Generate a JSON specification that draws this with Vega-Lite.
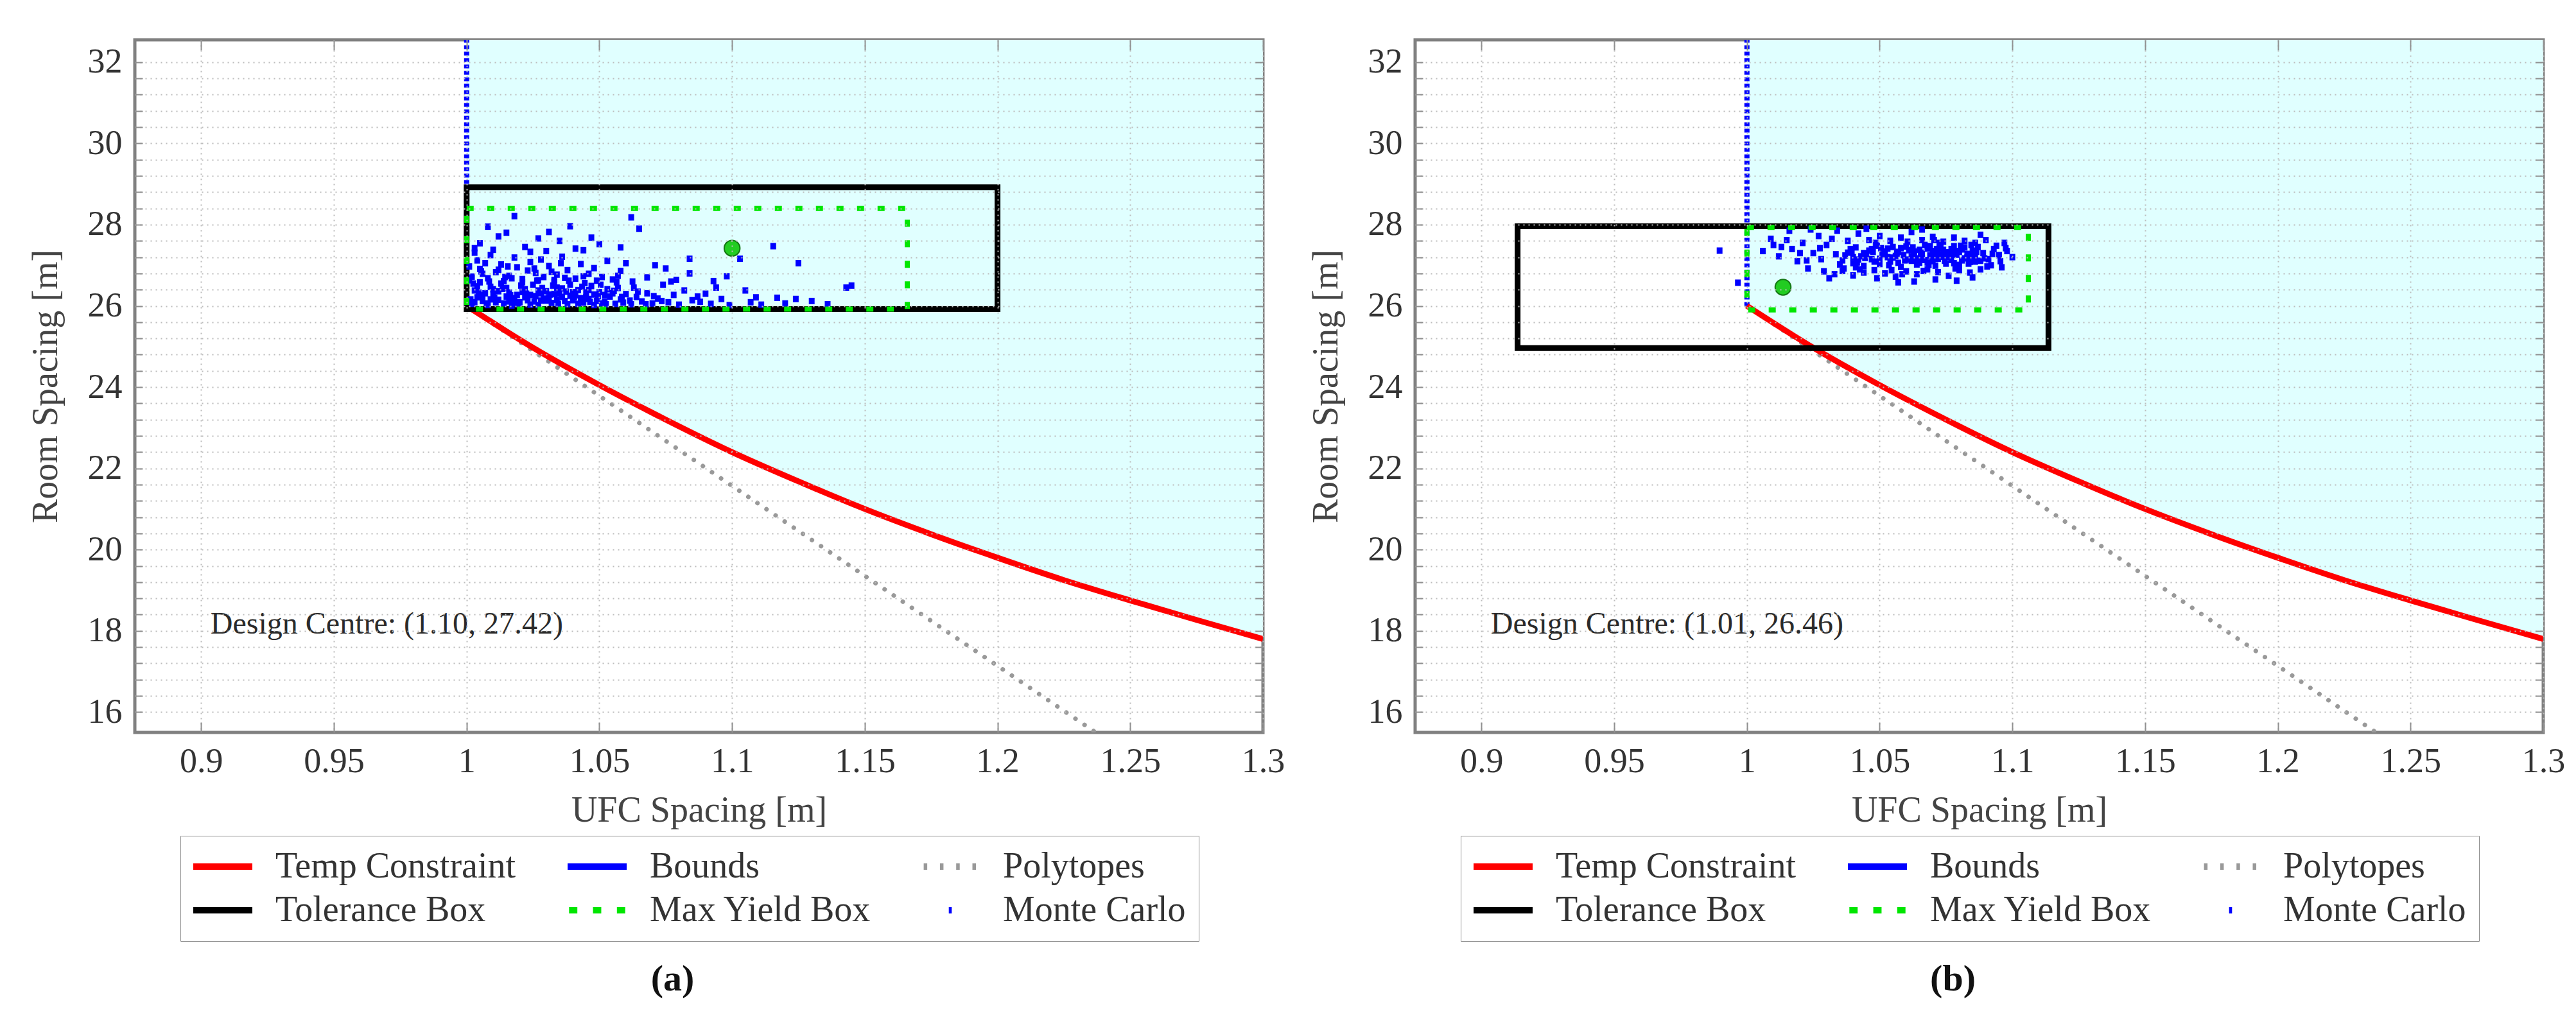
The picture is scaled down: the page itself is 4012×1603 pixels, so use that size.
{
"$schema":"https://vega.github.io/schema/vega-lite/v6.json",
"background":"white",
"padding":{"left":40,"top":58,"right":10,"bottom":10},
"spacing":30,
"config":{"font":"Liberation Serif","view":{"stroke":"#808080","strokeWidth":5},"axis":{"labelFont":"Liberation Serif","titleFont":"Liberation Serif"},"legend":{"labelFont":"Liberation Serif"}},
"resolve":{"scale":{"color":"independent","shape":"independent"},"legend":{"color":"independent","shape":"independent"}},
"datasets":{
"curve":[{"x":1.0,"y":26.0},{"x":1.025,"y":24.97},{"x":1.05,"y":24.05},{"x":1.075,"y":23.2},{"x":1.1,"y":22.4},{"x":1.125,"y":21.68},{"x":1.15,"y":21.0},{"x":1.175,"y":20.38},{"x":1.2,"y":19.8},{"x":1.225,"y":19.25},{"x":1.25,"y":18.75},{"x":1.275,"y":18.27},{"x":1.3,"y":17.8}],
"poly":[{"x":1.0,"y":26.0},{"x":1.237,"y":15.5}],
"bounds":[{"x":1.0,"y":26.0},{"x":1.0,"y":32.55}],
"tolA":[{"x1":1.0,"x2":1.2,"y1":25.92,"y2":28.92}],
"myA":[{"x1":1.0,"x2":1.166,"y1":25.92,"y2":28.4}],
"tolB":[{"x1":0.9136,"x2":1.1136,"y1":24.96,"y2":27.96}],
"myB":[{"x1":1.0,"x2":1.106,"y1":25.9,"y2":27.93}],
"dcA":[{"x":1.10,"y":27.42}],
"dcB":[{"x":1.0136,"y":26.46}],
"txtA":[{"x":0.9035,"y":18.15,"t":"Design Centre: (1.10, 27.42)"}],
"txtB":[{"x":0.9035,"y":18.15,"t":"Design Centre: (1.01, 26.46)"}],
"mcA":[
{"x":1.002,"y":26.05,"s":"Monte Carlo"},{"x":1.004,"y":26.21,"s":"Monte Carlo"},{"x":1.006,"y":26.12,"s":"Monte Carlo"},{"x":1.003,"y":26.38,"s":"Monte Carlo"},{"x":1.008,"y":26.02,"s":"Monte Carlo"},{"x":1.010,"y":26.29,"s":"Monte Carlo"},{"x":1.012,"y":26.15,"s":"Monte Carlo"},{"x":1.009,"y":26.47,"s":"Monte Carlo"},{"x":1.014,"y":26.06,"s":"Monte Carlo"},{"x":1.016,"y":26.33,"s":"Monte Carlo"},{"x":1.018,"y":26.19,"s":"Monte Carlo"},{"x":1.013,"y":26.55,"s":"Monte Carlo"},{"x":1.020,"y":26.09,"s":"Monte Carlo"},{"x":1.022,"y":26.41,"s":"Monte Carlo"},{"x":1.019,"y":26.27,"s":"Monte Carlo"},{"x":1.024,"y":26.03,"s":"Monte Carlo"},{"x":1.026,"y":26.24,"s":"Monte Carlo"},{"x":1.028,"y":26.13,"s":"Monte Carlo"},{"x":1.025,"y":26.52,"s":"Monte Carlo"},{"x":1.030,"y":26.36,"s":"Monte Carlo"},{"x":1.032,"y":26.07,"s":"Monte Carlo"},{"x":1.029,"y":26.18,"s":"Monte Carlo"},{"x":1.034,"y":26.45,"s":"Monte Carlo"},{"x":1.036,"y":26.22,"s":"Monte Carlo"},{"x":1.038,"y":26.04,"s":"Monte Carlo"},{"x":1.035,"y":26.31,"s":"Monte Carlo"},{"x":1.040,"y":26.14,"s":"Monte Carlo"},{"x":1.042,"y":26.39,"s":"Monte Carlo"},{"x":1.044,"y":26.08,"s":"Monte Carlo"},{"x":1.041,"y":26.26,"s":"Monte Carlo"},{"x":1.046,"y":26.17,"s":"Monte Carlo"},{"x":1.048,"y":26.02,"s":"Monte Carlo"},{"x":1.050,"y":26.34,"s":"Monte Carlo"},{"x":1.047,"y":26.49,"s":"Monte Carlo"},{"x":1.052,"y":26.11,"s":"Monte Carlo"},{"x":1.054,"y":26.23,"s":"Monte Carlo"},{"x":1.056,"y":26.05,"s":"Monte Carlo"},{"x":1.053,"y":26.41,"s":"Monte Carlo"},{"x":1.058,"y":26.16,"s":"Monte Carlo"},{"x":1.060,"y":26.29,"s":"Monte Carlo"},
{"x":1.001,"y":26.63,"s":"Monte Carlo"},{"x":1.005,"y":26.58,"s":"Monte Carlo"},{"x":1.007,"y":26.31,"s":"Monte Carlo"},{"x":1.011,"y":26.09,"s":"Monte Carlo"},{"x":1.015,"y":26.44,"s":"Monte Carlo"},{"x":1.017,"y":26.01,"s":"Monte Carlo"},{"x":1.021,"y":26.58,"s":"Monte Carlo"},{"x":1.023,"y":26.14,"s":"Monte Carlo"},{"x":1.027,"y":26.38,"s":"Monte Carlo"},{"x":1.031,"y":26.21,"s":"Monte Carlo"},{"x":1.033,"y":26.59,"s":"Monte Carlo"},{"x":1.037,"y":26.12,"s":"Monte Carlo"},{"x":1.039,"y":26.52,"s":"Monte Carlo"},{"x":1.043,"y":26.19,"s":"Monte Carlo"},{"x":1.045,"y":26.33,"s":"Monte Carlo"},{"x":1.049,"y":26.12,"s":"Monte Carlo"},{"x":1.051,"y":26.06,"s":"Monte Carlo"},{"x":1.055,"y":26.31,"s":"Monte Carlo"},{"x":1.057,"y":26.44,"s":"Monte Carlo"},{"x":1.059,"y":26.08,"s":"Monte Carlo"},
{"x":1.003,"y":26.09,"s":"Monte Carlo"},{"x":1.006,"y":26.27,"s":"Monte Carlo"},{"x":1.009,"y":26.16,"s":"Monte Carlo"},{"x":1.012,"y":26.36,"s":"Monte Carlo"},{"x":1.015,"y":26.23,"s":"Monte Carlo"},{"x":1.018,"y":26.06,"s":"Monte Carlo"},{"x":1.021,"y":26.34,"s":"Monte Carlo"},{"x":1.024,"y":26.27,"s":"Monte Carlo"},{"x":1.027,"y":26.02,"s":"Monte Carlo"},{"x":1.030,"y":26.13,"s":"Monte Carlo"},{"x":1.033,"y":26.29,"s":"Monte Carlo"},{"x":1.036,"y":26.43,"s":"Monte Carlo"},{"x":1.039,"y":26.25,"s":"Monte Carlo"},{"x":1.042,"y":26.05,"s":"Monte Carlo"},{"x":1.045,"y":26.21,"s":"Monte Carlo"},{"x":1.048,"y":26.28,"s":"Monte Carlo"},{"x":1.004,"y":26.48,"s":"Monte Carlo"},{"x":1.010,"y":26.41,"s":"Monte Carlo"},{"x":1.016,"y":26.11,"s":"Monte Carlo"},{"x":1.022,"y":26.21,"s":"Monte Carlo"},{"x":1.028,"y":26.31,"s":"Monte Carlo"},{"x":1.034,"y":26.15,"s":"Monte Carlo"},{"x":1.040,"y":26.34,"s":"Monte Carlo"},{"x":1.046,"y":26.39,"s":"Monte Carlo"},{"x":1.052,"y":26.27,"s":"Monte Carlo"},
{"x":1.0015,"y":26.16,"s":"Monte Carlo"},{"x":1.0045,"y":26.33,"s":"Monte Carlo"},{"x":1.0075,"y":26.06,"s":"Monte Carlo"},{"x":1.0105,"y":26.2,"s":"Monte Carlo"},{"x":1.0135,"y":26.42,"s":"Monte Carlo"},{"x":1.0165,"y":26.26,"s":"Monte Carlo"},{"x":1.0195,"y":26.04,"s":"Monte Carlo"},{"x":1.0225,"y":26.3,"s":"Monte Carlo"},{"x":1.0255,"y":26.11,"s":"Monte Carlo"},{"x":1.0285,"y":26.44,"s":"Monte Carlo"},{"x":1.0315,"y":26.28,"s":"Monte Carlo"},{"x":1.0345,"y":26.05,"s":"Monte Carlo"},{"x":1.0375,"y":26.35,"s":"Monte Carlo"},{"x":1.0405,"y":26.21,"s":"Monte Carlo"},{"x":1.0435,"y":26.47,"s":"Monte Carlo"},{"x":1.0465,"y":26.1,"s":"Monte Carlo"},{"x":1.0495,"y":26.24,"s":"Monte Carlo"},{"x":1.0525,"y":26.04,"s":"Monte Carlo"},{"x":1.0555,"y":26.37,"s":"Monte Carlo"},{"x":1.0585,"y":26.22,"s":"Monte Carlo"},{"x":1.0615,"y":26.13,"s":"Monte Carlo"},{"x":1.0645,"y":26.35,"s":"Monte Carlo"},{"x":1.0675,"y":26.04,"s":"Monte Carlo"},{"x":1.0705,"y":26.24,"s":"Monte Carlo"},{"x":1.0735,"y":26.12,"s":"Monte Carlo"},{"x":1.0025,"y":26.55,"s":"Monte Carlo"},{"x":1.0085,"y":26.6,"s":"Monte Carlo"},{"x":1.0145,"y":26.71,"s":"Monte Carlo"},{"x":1.0205,"y":26.5,"s":"Monte Carlo"},{"x":1.0265,"y":26.62,"s":"Monte Carlo"},{"x":1.0325,"y":26.5,"s":"Monte Carlo"},{"x":1.0385,"y":26.62,"s":"Monte Carlo"},{"x":1.0445,"y":26.56,"s":"Monte Carlo"},{"x":1.0505,"y":26.52,"s":"Monte Carlo"},{"x":1.0565,"y":26.58,"s":"Monte Carlo"},{"x":1.0625,"y":26.6,"s":"Monte Carlo"},{"x":1.0055,"y":26.85,"s":"Monte Carlo"},{"x":1.0155,"y":26.97,"s":"Monte Carlo"},{"x":1.0255,"y":26.92,"s":"Monte Carlo"},{"x":1.0355,"y":27.05,"s":"Monte Carlo"},
{"x":1.002,"y":26.72,"s":"Monte Carlo"},{"x":1.005,"y":26.91,"s":"Monte Carlo"},{"x":1.008,"y":26.68,"s":"Monte Carlo"},{"x":1.004,"y":27.12,"s":"Monte Carlo"},{"x":1.011,"y":26.83,"s":"Monte Carlo"},{"x":1.013,"y":27.02,"s":"Monte Carlo"},{"x":1.016,"y":26.74,"s":"Monte Carlo"},{"x":1.009,"y":27.25,"s":"Monte Carlo"},{"x":1.019,"y":26.95,"s":"Monte Carlo"},{"x":1.021,"y":26.66,"s":"Monte Carlo"},{"x":1.024,"y":27.08,"s":"Monte Carlo"},{"x":1.026,"y":26.81,"s":"Monte Carlo"},{"x":1.018,"y":27.19,"s":"Monte Carlo"},{"x":1.029,"y":26.71,"s":"Monte Carlo"},{"x":1.031,"y":26.98,"s":"Monte Carlo"},{"x":1.034,"y":26.77,"s":"Monte Carlo"},{"x":1.036,"y":27.21,"s":"Monte Carlo"},{"x":1.038,"y":26.88,"s":"Monte Carlo"},{"x":1.041,"y":26.67,"s":"Monte Carlo"},{"x":1.043,"y":27.03,"s":"Monte Carlo"},{"x":1.046,"y":26.79,"s":"Monte Carlo"},{"x":1.048,"y":26.93,"s":"Monte Carlo"},{"x":1.051,"y":26.71,"s":"Monte Carlo"},{"x":1.053,"y":27.11,"s":"Monte Carlo"},{"x":1.055,"y":26.65,"s":"Monte Carlo"},{"x":1.058,"y":26.86,"s":"Monte Carlo"},{"x":1.006,"y":26.79,"s":"Monte Carlo"},{"x":1.014,"y":26.61,"s":"Monte Carlo"},{"x":1.023,"y":26.87,"s":"Monte Carlo"},{"x":1.028,"y":27.14,"s":"Monte Carlo"},{"x":1.033,"y":26.64,"s":"Monte Carlo"},{"x":1.001,"y":26.97,"s":"Monte Carlo"},{"x":1.003,"y":27.31,"s":"Monte Carlo"},{"x":1.007,"y":27.05,"s":"Monte Carlo"},{"x":1.012,"y":26.89,"s":"Monte Carlo"},{"x":1.017,"y":26.68,"s":"Monte Carlo"},{"x":1.027,"y":26.63,"s":"Monte Carlo"},{"x":1.032,"y":26.84,"s":"Monte Carlo"},{"x":1.037,"y":26.69,"s":"Monte Carlo"},{"x":1.044,"y":26.73,"s":"Monte Carlo"},{"x":1.049,"y":26.62,"s":"Monte Carlo"},{"x":1.057,"y":26.74,"s":"Monte Carlo"},
{"x":1.005,"y":27.54,"s":"Monte Carlo"},{"x":1.015,"y":27.8,"s":"Monte Carlo"},{"x":1.018,"y":28.21,"s":"Monte Carlo"},{"x":1.031,"y":27.82,"s":"Monte Carlo"},{"x":1.035,"y":27.6,"s":"Monte Carlo"},{"x":1.039,"y":27.96,"s":"Monte Carlo"},{"x":1.062,"y":28.18,"s":"Monte Carlo"},{"x":1.065,"y":27.9,"s":"Monte Carlo"},{"x":1.003,"y":27.42,"s":"Monte Carlo"},{"x":1.010,"y":27.38,"s":"Monte Carlo"},{"x":1.022,"y":27.45,"s":"Monte Carlo"},{"x":1.027,"y":27.66,"s":"Monte Carlo"},{"x":1.044,"y":27.37,"s":"Monte Carlo"},{"x":1.050,"y":27.52,"s":"Monte Carlo"},{"x":1.024,"y":27.33,"s":"Monte Carlo"},{"x":1.012,"y":27.71,"s":"Monte Carlo"},{"x":1.041,"y":27.41,"s":"Monte Carlo"},{"x":1.058,"y":27.44,"s":"Monte Carlo"},{"x":1.008,"y":27.95,"s":"Monte Carlo"},{"x":1.030,"y":27.35,"s":"Monte Carlo"},{"x":1.047,"y":27.68,"s":"Monte Carlo"},{"x":1.060,"y":27.05,"s":"Monte Carlo"},
{"x":1.062,"y":26.04,"s":"Monte Carlo"},{"x":1.064,"y":26.22,"s":"Monte Carlo"},{"x":1.066,"y":26.11,"s":"Monte Carlo"},{"x":1.063,"y":26.45,"s":"Monte Carlo"},{"x":1.068,"y":26.31,"s":"Monte Carlo"},{"x":1.070,"y":26.06,"s":"Monte Carlo"},{"x":1.071,"y":27.0,"s":"Monte Carlo"},{"x":1.072,"y":26.18,"s":"Monte Carlo"},{"x":1.074,"y":26.52,"s":"Monte Carlo"},{"x":1.076,"y":26.09,"s":"Monte Carlo"},{"x":1.077,"y":26.6,"s":"Monte Carlo"},{"x":1.078,"y":26.27,"s":"Monte Carlo"},{"x":1.080,"y":26.03,"s":"Monte Carlo"},{"x":1.082,"y":26.38,"s":"Monte Carlo"},{"x":1.084,"y":27.16,"s":"Monte Carlo"},{"x":1.084,"y":26.8,"s":"Monte Carlo"},{"x":1.085,"y":26.14,"s":"Monte Carlo"},{"x":1.087,"y":26.23,"s":"Monte Carlo"},{"x":1.088,"y":26.1,"s":"Monte Carlo"},{"x":1.09,"y":26.3,"s":"Monte Carlo"},{"x":1.092,"y":26.05,"s":"Monte Carlo"},{"x":1.094,"y":26.45,"s":"Monte Carlo"},{"x":1.096,"y":26.17,"s":"Monte Carlo"},{"x":1.098,"y":26.73,"s":"Monte Carlo"},{"x":1.099,"y":26.02,"s":"Monte Carlo"},{"x":1.103,"y":27.16,"s":"Monte Carlo"},{"x":1.105,"y":26.38,"s":"Monte Carlo"},{"x":1.107,"y":26.09,"s":"Monte Carlo"},{"x":1.109,"y":26.21,"s":"Monte Carlo"},{"x":1.111,"y":26.03,"s":"Monte Carlo"},{"x":1.1155,"y":27.47,"s":"Monte Carlo"},{"x":1.117,"y":26.2,"s":"Monte Carlo"},{"x":1.120,"y":26.06,"s":"Monte Carlo"},{"x":1.124,"y":26.17,"s":"Monte Carlo"},{"x":1.125,"y":27.05,"s":"Monte Carlo"},{"x":1.130,"y":26.12,"s":"Monte Carlo"},{"x":1.136,"y":26.04,"s":"Monte Carlo"},{"x":1.143,"y":26.45,"s":"Monte Carlo"},{"x":1.145,"y":26.5,"s":"Monte Carlo"},{"x":1.068,"y":26.7,"s":"Monte Carlo"},{"x":1.075,"y":26.92,"s":"Monte Carlo"},{"x":1.079,"y":26.64,"s":"Monte Carlo"},{"x":1.093,"y":26.61,"s":"Monte Carlo"}
],
"mcB":[
{"x":1.036,"y":27.12,"s":"Monte Carlo"},{"x":1.038,"y":27.31,"s":"Monte Carlo"},{"x":1.040,"y":27.05,"s":"Monte Carlo"},{"x":1.041,"y":27.44,"s":"Monte Carlo"},{"x":1.043,"y":27.22,"s":"Monte Carlo"},{"x":1.044,"y":26.98,"s":"Monte Carlo"},{"x":1.046,"y":27.36,"s":"Monte Carlo"},{"x":1.047,"y":27.15,"s":"Monte Carlo"},{"x":1.049,"y":27.48,"s":"Monte Carlo"},{"x":1.050,"y":27.03,"s":"Monte Carlo"},{"x":1.051,"y":27.27,"s":"Monte Carlo"},{"x":1.053,"y":27.41,"s":"Monte Carlo"},{"x":1.054,"y":27.09,"s":"Monte Carlo"},{"x":1.055,"y":27.19,"s":"Monte Carlo"},{"x":1.057,"y":27.33,"s":"Monte Carlo"},{"x":1.058,"y":26.96,"s":"Monte Carlo"},{"x":1.059,"y":27.25,"s":"Monte Carlo"},{"x":1.060,"y":27.46,"s":"Monte Carlo"},{"x":1.062,"y":27.11,"s":"Monte Carlo"},{"x":1.063,"y":27.29,"s":"Monte Carlo"},{"x":1.064,"y":27.02,"s":"Monte Carlo"},{"x":1.065,"y":27.38,"s":"Monte Carlo"},{"x":1.066,"y":27.18,"s":"Monte Carlo"},{"x":1.067,"y":27.5,"s":"Monte Carlo"},{"x":1.068,"y":27.07,"s":"Monte Carlo"},{"x":1.069,"y":27.24,"s":"Monte Carlo"},{"x":1.070,"y":27.35,"s":"Monte Carlo"},{"x":1.071,"y":26.99,"s":"Monte Carlo"},{"x":1.072,"y":27.16,"s":"Monte Carlo"},{"x":1.073,"y":27.43,"s":"Monte Carlo"},{"x":1.074,"y":27.21,"s":"Monte Carlo"},{"x":1.075,"y":27.04,"s":"Monte Carlo"},{"x":1.076,"y":27.32,"s":"Monte Carlo"},{"x":1.077,"y":27.13,"s":"Monte Carlo"},{"x":1.078,"y":27.47,"s":"Monte Carlo"},{"x":1.079,"y":27.26,"s":"Monte Carlo"},{"x":1.080,"y":27.01,"s":"Monte Carlo"},{"x":1.081,"y":27.39,"s":"Monte Carlo"},{"x":1.082,"y":27.17,"s":"Monte Carlo"},{"x":1.083,"y":27.28,"s":"Monte Carlo"},{"x":1.084,"y":27.08,"s":"Monte Carlo"},{"x":1.085,"y":27.36,"s":"Monte Carlo"},{"x":1.086,"y":27.2,"s":"Monte Carlo"},{"x":1.087,"y":27.45,"s":"Monte Carlo"},{"x":1.088,"y":27.11,"s":"Monte Carlo"},{"x":1.089,"y":27.3,"s":"Monte Carlo"},
{"x":1.037,"y":27.24,"s":"Monte Carlo"},{"x":1.039,"y":27.4,"s":"Monte Carlo"},{"x":1.042,"y":27.14,"s":"Monte Carlo"},{"x":1.045,"y":27.27,"s":"Monte Carlo"},{"x":1.048,"y":27.09,"s":"Monte Carlo"},{"x":1.052,"y":27.34,"s":"Monte Carlo"},{"x":1.056,"y":27.23,"s":"Monte Carlo"},{"x":1.061,"y":27.37,"s":"Monte Carlo"},{"x":1.064,"y":27.17,"s":"Monte Carlo"},{"x":1.066,"y":27.27,"s":"Monte Carlo"},{"x":1.068,"y":27.41,"s":"Monte Carlo"},{"x":1.070,"y":27.1,"s":"Monte Carlo"},{"x":1.072,"y":27.3,"s":"Monte Carlo"},{"x":1.074,"y":27.38,"s":"Monte Carlo"},{"x":1.076,"y":27.2,"s":"Monte Carlo"},{"x":1.078,"y":27.05,"s":"Monte Carlo"},{"x":1.080,"y":27.33,"s":"Monte Carlo"},{"x":1.082,"y":27.44,"s":"Monte Carlo"},{"x":1.084,"y":27.24,"s":"Monte Carlo"},{"x":1.086,"y":27.09,"s":"Monte Carlo"},{"x":1.053,"y":27.2,"s":"Monte Carlo"},{"x":1.058,"y":27.42,"s":"Monte Carlo"},{"x":1.062,"y":27.22,"s":"Monte Carlo"},{"x":1.065,"y":27.06,"s":"Monte Carlo"},{"x":1.069,"y":27.47,"s":"Monte Carlo"},{"x":1.073,"y":27.25,"s":"Monte Carlo"},{"x":1.077,"y":27.4,"s":"Monte Carlo"},{"x":1.081,"y":27.12,"s":"Monte Carlo"},{"x":1.085,"y":27.27,"s":"Monte Carlo"},{"x":1.060,"y":27.14,"s":"Monte Carlo"},{"x":1.063,"y":27.34,"s":"Monte Carlo"},{"x":1.067,"y":27.13,"s":"Monte Carlo"},{"x":1.071,"y":27.22,"s":"Monte Carlo"},{"x":1.075,"y":27.29,"s":"Monte Carlo"},{"x":1.079,"y":27.35,"s":"Monte Carlo"},{"x":1.083,"y":27.19,"s":"Monte Carlo"},{"x":1.057,"y":27.06,"s":"Monte Carlo"},{"x":1.055,"y":27.45,"s":"Monte Carlo"},{"x":1.050,"y":27.16,"s":"Monte Carlo"},{"x":1.047,"y":27.4,"s":"Monte Carlo"},{"x":1.044,"y":27.3,"s":"Monte Carlo"},{"x":1.040,"y":27.2,"s":"Monte Carlo"},
{"x":1.0415,"y":27.07,"s":"Monte Carlo"},{"x":1.0445,"y":27.18,"s":"Monte Carlo"},{"x":1.0475,"y":27.33,"s":"Monte Carlo"},{"x":1.0505,"y":27.42,"s":"Monte Carlo"},{"x":1.0535,"y":27.0,"s":"Monte Carlo"},{"x":1.0565,"y":27.29,"s":"Monte Carlo"},{"x":1.0595,"y":27.12,"s":"Monte Carlo"},{"x":1.0625,"y":27.44,"s":"Monte Carlo"},{"x":1.0655,"y":27.31,"s":"Monte Carlo"},{"x":1.0685,"y":27.01,"s":"Monte Carlo"},{"x":1.0715,"y":27.4,"s":"Monte Carlo"},{"x":1.0745,"y":27.11,"s":"Monte Carlo"},{"x":1.0775,"y":27.26,"s":"Monte Carlo"},{"x":1.0805,"y":27.48,"s":"Monte Carlo"},{"x":1.0835,"y":27.04,"s":"Monte Carlo"},{"x":1.0865,"y":27.33,"s":"Monte Carlo"},{"x":1.0895,"y":27.17,"s":"Monte Carlo"},{"x":1.0925,"y":27.28,"s":"Monte Carlo"},{"x":1.0395,"y":27.33,"s":"Monte Carlo"},{"x":1.0425,"y":26.9,"s":"Monte Carlo"},{"x":1.0545,"y":26.88,"s":"Monte Carlo"},{"x":1.0665,"y":26.86,"s":"Monte Carlo"},{"x":1.0785,"y":26.92,"s":"Monte Carlo"},{"x":1.0905,"y":26.97,"s":"Monte Carlo"},{"x":1.0485,"y":27.55,"s":"Monte Carlo"},{"x":1.0605,"y":27.58,"s":"Monte Carlo"},{"x":1.0725,"y":27.55,"s":"Monte Carlo"},{"x":1.0845,"y":27.5,"s":"Monte Carlo"},{"x":1.0335,"y":27.27,"s":"Monte Carlo"},{"x":1.0275,"y":27.42,"s":"Monte Carlo"},{"x":1.0225,"y":27.12,"s":"Monte Carlo"},{"x":1.0365,"y":26.92,"s":"Monte Carlo"},{"x":1.0955,"y":27.1,"s":"Monte Carlo"},{"x":1.0975,"y":27.42,"s":"Monte Carlo"},{"x":1.0705,"y":27.62,"s":"Monte Carlo"},{"x":1.0585,"y":26.78,"s":"Monte Carlo"},
{"x":1.006,"y":27.35,"s":"Monte Carlo"},{"x":1.010,"y":27.5,"s":"Monte Carlo"},{"x":1.012,"y":27.22,"s":"Monte Carlo"},{"x":1.015,"y":27.62,"s":"Monte Carlo"},{"x":1.017,"y":27.4,"s":"Monte Carlo"},{"x":1.019,"y":27.1,"s":"Monte Carlo"},{"x":1.021,"y":27.55,"s":"Monte Carlo"},{"x":1.023,"y":26.92,"s":"Monte Carlo"},{"x":1.025,"y":27.3,"s":"Monte Carlo"},{"x":1.027,"y":27.72,"s":"Monte Carlo"},{"x":1.029,"y":26.85,"s":"Monte Carlo"},{"x":1.030,"y":27.5,"s":"Monte Carlo"},{"x":1.032,"y":27.65,"s":"Monte Carlo"},{"x":1.033,"y":26.78,"s":"Monte Carlo"},{"x":1.034,"y":27.85,"s":"Monte Carlo"},{"x":1.036,"y":26.86,"s":"Monte Carlo"},{"x":1.038,"y":27.6,"s":"Monte Carlo"},{"x":1.040,"y":26.75,"s":"Monte Carlo"},{"x":1.042,"y":27.78,"s":"Monte Carlo"},{"x":1.044,"y":26.82,"s":"Monte Carlo"},{"x":1.046,"y":27.62,"s":"Monte Carlo"},{"x":1.048,"y":26.88,"s":"Monte Carlo"},{"x":1.050,"y":27.72,"s":"Monte Carlo"},{"x":1.052,"y":26.8,"s":"Monte Carlo"},{"x":1.054,"y":27.6,"s":"Monte Carlo"},{"x":1.056,"y":26.72,"s":"Monte Carlo"},{"x":1.058,"y":27.68,"s":"Monte Carlo"},{"x":1.060,"y":26.85,"s":"Monte Carlo"},{"x":1.062,"y":27.82,"s":"Monte Carlo"},{"x":1.064,"y":26.78,"s":"Monte Carlo"},{"x":1.066,"y":27.62,"s":"Monte Carlo"},{"x":1.068,"y":26.9,"s":"Monte Carlo"},{"x":1.070,"y":27.7,"s":"Monte Carlo"},{"x":1.072,"y":26.83,"s":"Monte Carlo"},{"x":1.074,"y":27.58,"s":"Monte Carlo"},{"x":1.076,"y":26.74,"s":"Monte Carlo"},{"x":1.078,"y":27.68,"s":"Monte Carlo"},{"x":1.080,"y":26.88,"s":"Monte Carlo"},{"x":1.082,"y":27.6,"s":"Monte Carlo"},{"x":1.084,"y":26.82,"s":"Monte Carlo"},{"x":1.086,"y":27.55,"s":"Monte Carlo"},{"x":1.088,"y":26.9,"s":"Monte Carlo"},{"x":1.090,"y":27.62,"s":"Monte Carlo"},{"x":1.092,"y":27.0,"s":"Monte Carlo"},{"x":1.093,"y":27.4,"s":"Monte Carlo"},{"x":1.095,"y":27.25,"s":"Monte Carlo"},{"x":1.096,"y":26.95,"s":"Monte Carlo"},{"x":1.098,"y":27.35,"s":"Monte Carlo"},{"x":1.100,"y":27.2,"s":"Monte Carlo"},{"x":1.091,"y":27.15,"s":"Monte Carlo"},{"x":1.094,"y":27.48,"s":"Monte Carlo"},{"x":1.085,"y":26.7,"s":"Monte Carlo"},{"x":1.079,"y":26.62,"s":"Monte Carlo"},{"x":1.071,"y":26.65,"s":"Monte Carlo"},{"x":1.063,"y":26.6,"s":"Monte Carlo"},{"x":1.057,"y":26.58,"s":"Monte Carlo"},{"x":1.049,"y":26.68,"s":"Monte Carlo"},{"x":1.041,"y":26.95,"s":"Monte Carlo"},{"x":1.035,"y":27.02,"s":"Monte Carlo"},{"x":1.028,"y":27.15,"s":"Monte Carlo"},{"x":1.020,"y":27.3,"s":"Monte Carlo"},{"x":1.013,"y":27.45,"s":"Monte Carlo"},{"x":1.009,"y":27.65,"s":"Monte Carlo"},{"x":1.016,"y":27.85,"s":"Monte Carlo"},{"x":1.024,"y":27.88,"s":"Monte Carlo"},{"x":1.045,"y":27.9,"s":"Monte Carlo"},{"x":1.066,"y":27.88,"s":"Monte Carlo"},{"x":1.088,"y":27.75,"s":"Monte Carlo"},{"x":1.097,"y":27.55,"s":"Monte Carlo"},{"x":1.031,"y":26.68,"s":"Monte Carlo"},{"x":0.9897,"y":27.36,"s":"Monte Carlo"},{"x":0.9966,"y":26.57,"s":"Monte Carlo"}
]
},
"hconcat":[
{
"width":1757,"height":1079,
"title":{"text":"(a)","orient":"bottom","offset":30,"dx":-41,"fontSize":58,"fontWeight":"bold","color":"#111111","font":"Liberation Serif"},
"resolve":{"axis":{"x":"independent","y":"independent"}},
"layer":[
{"data":{"name":"curve"},"mark":{"type":"area","fill":"#e0ffff","clip":true},
 "encoding":{
  "x":{"field":"x","type":"quantitative","scale":{"domain":[0.875,1.3],"nice":false,"zero":false},"axis":{"orient":"bottom","values":[0.9,0.95,1,1.05,1.1,1.15,1.2,1.25,1.3],"tickCount":200,"tickMinStep":0.01,"format":".2~f","title":"UFC Spacing [m]","grid":true,"gridColor":"#bcbcbc","gridDash":[2,6],"gridWidth":2,"domain":false,"ticks":true,"tickSize":-16,"tickColor":"#909090","tickWidth":2,"labelPadding":34,"labelFontSize":54,"labelColor":"#333333","labelOverlap":false,"labelFlush":false,"titleFontSize":56,"titleFontWeight":"normal","titleColor":"#444444","titlePadding":22,"zindex":1}},
  "y":{"field":"y","type":"quantitative","scale":{"domain":[15.5,32.55],"nice":false,"zero":false},"axis":{"orient":"left","values":[16,16.4,16.8,17.2,17.6,18,18.4,18.8,19.2,19.6,20,20.4,20.8,21.2,21.6,22,22.4,22.8,23.2,23.6,24,24.4,24.8,25.2,25.6,26,26.4,26.8,27.2,27.6,28,28.4,28.8,29.2,29.6,30,30.4,30.8,31.2,31.6,32],"tickCount":200,"tickMinStep":0.1,"labelExpr":"datum.value % 2 === 0 ? '' + datum.value : ''","title":"Room Spacing [m]","grid":true,"gridColor":"#bcbcbc","gridDash":[2,6],"gridWidth":2,"domain":false,"ticks":true,"tickSize":-12,"tickColor":"#909090","tickWidth":2,"labelPadding":32,"labelFontSize":54,"labelColor":"#333333","labelOverlap":false,"labelFlush":false,"titleFontSize":56,"titleFontWeight":"normal","titleColor":"#444444","titlePadding":36,"zindex":1}},
  "y2":{"datum":32.55}}},
{"data":{"name":"poly"},"mark":{"type":"line","color":"#999999","strokeWidth":7,"strokeDash":[0.1,17],"strokeCap":"round","clip":true},
 "encoding":{
  "x":{"field":"x","type":"quantitative","scale":{"domain":[0.875,1.3],"nice":false,"zero":false},"axis":{"orient":"top","values":[0.9,0.95,1,1.05,1.1,1.15,1.2,1.25,1.3],"tickCount":200,"tickMinStep":0.01,"labels":false,"title":null,"grid":false,"domain":false,"ticks":true,"tickSize":-16,"tickColor":"#909090","tickWidth":2,"zindex":1}},
  "y":{"field":"y","type":"quantitative","scale":{"domain":[15.5,32.55],"nice":false,"zero":false},"axis":{"orient":"right","values":[16,16.4,16.8,17.2,17.6,18,18.4,18.8,19.2,19.6,20,20.4,20.8,21.2,21.6,22,22.4,22.8,23.2,23.6,24,24.4,24.8,25.2,25.6,26,26.4,26.8,27.2,27.6,28,28.4,28.8,29.2,29.6,30,30.4,30.8,31.2,31.6,32],"tickCount":200,"tickMinStep":0.1,"labels":false,"title":null,"grid":false,"domain":false,"ticks":true,"tickSize":-12,"tickColor":"#909090","tickWidth":2,"zindex":1}}}},
{"data":{"name":"bounds"},"mark":{"type":"line","color":"#0000ff","strokeWidth":8,"strokeDash":[6,4],"clip":true},
 "encoding":{"x":{"field":"x","type":"quantitative","scale":{"domain":[0.875,1.3],"nice":false,"zero":false},"axis":null},"y":{"field":"y","type":"quantitative","scale":{"domain":[15.5,32.55],"nice":false,"zero":false},"axis":null},"order":{"field":"y"}}},
{"data":{"name":"curve"},"mark":{"type":"line","color":"#ff0000","strokeWidth":9,"interpolate":"monotone","clip":true},
 "encoding":{"x":{"field":"x","type":"quantitative","scale":{"domain":[0.875,1.3],"nice":false,"zero":false},"axis":null},"y":{"field":"y","type":"quantitative","scale":{"domain":[15.5,32.55],"nice":false,"zero":false},"axis":null}}},
{"data":{"name":"tolA"},"mark":{"type":"rect","fill":"transparent","stroke":"#000000","strokeWidth":9},
 "encoding":{"x":{"field":"x1","type":"quantitative","scale":{"domain":[0.875,1.3],"nice":false,"zero":false},"axis":null},"x2":{"field":"x2"},"y":{"field":"y1","type":"quantitative","scale":{"domain":[15.5,32.55],"nice":false,"zero":false},"axis":null},"y2":{"field":"y2"}}},
{"data":{"name":"mcA"},"mark":{"type":"point","filled":false,"strokeWidth":10,"size":8100,"opacity":1},
 "encoding":{"x":{"field":"x","type":"quantitative","scale":{"domain":[0.875,1.3],"nice":false,"zero":false},"axis":null},"y":{"field":"y","type":"quantitative","scale":{"domain":[15.5,32.55],"nice":false,"zero":false},"axis":null},
  "color":{"field":"s","type":"nominal","scale":{"domain":["Temp Constraint","Bounds","Polytopes","Tolerance Box","Max Yield Box","Monte Carlo"],"range":["#ff0000","#0000ff","#999999","#000000","#00e600","#0000ff"]},
   "legend":{"orient":"none","legendX":71,"legendY":1240,"title":null,"columns":3,"direction":"horizontal","columnPadding":60,"rowPadding":12,"padding":20,"labelFontSize":56,"labelFont":"Liberation Serif","labelColor":"#333333","labelOffset":54,"labelLimit":0,"symbolSize":2116,"symbolOffset":18,"symbolStrokeWidth":10,"symbolFillColor":"transparent","strokeColor":"#8c8c8c","fillColor":"#ffffff"}},
  "shape":{"field":"s","type":"nominal","scale":{"domain":["Temp Constraint","Bounds","Polytopes","Tolerance Box","Max Yield Box","Monte Carlo"],"range":["M-2,0H2","M-2,0H2","M-1.8,0h0.24M-0.7,0h0.24M0.4,0h0.24M1.5,0h0.24","M-2,0H2","M-1.9,0h0.56M-0.28,0h0.56M1.34,0h0.56","M-0.1,0h0.2"]},
   "legend":{"orient":"none","legendX":71,"legendY":1240,"title":null,"columns":3,"direction":"horizontal","columnPadding":60,"rowPadding":12,"padding":20,"labelFontSize":56,"labelFont":"Liberation Serif","labelColor":"#333333","labelOffset":54,"labelLimit":0,"symbolSize":2116,"symbolOffset":18,"symbolStrokeWidth":10,"symbolFillColor":"transparent","strokeColor":"#8c8c8c","fillColor":"#ffffff"}}}},
{"data":{"name":"myA"},"mark":{"type":"rect","fill":"transparent","stroke":"#00e600","strokeWidth":8,"strokeDash":[11,21]},
 "encoding":{"x":{"field":"x1","type":"quantitative","scale":{"domain":[0.875,1.3],"nice":false,"zero":false},"axis":null},"x2":{"field":"x2"},"y":{"field":"y1","type":"quantitative","scale":{"domain":[15.5,32.55],"nice":false,"zero":false},"axis":null},"y2":{"field":"y2"}}},
{"data":{"name":"dcA"},"mark":{"type":"point","filled":true,"fill":"#22cc22","stroke":"#127712","strokeWidth":2,"size":600,"opacity":1},
 "encoding":{"x":{"field":"x","type":"quantitative","scale":{"domain":[0.875,1.3],"nice":false,"zero":false},"axis":null},"y":{"field":"y","type":"quantitative","scale":{"domain":[15.5,32.55],"nice":false,"zero":false},"axis":null}}},
{"data":{"name":"txtA"},"mark":{"type":"text","align":"left","baseline":"middle","fontSize":48,"font":"Liberation Serif","color":"#2a2a2a"},
 "encoding":{"x":{"field":"x","type":"quantitative","scale":{"domain":[0.875,1.3],"nice":false,"zero":false},"axis":null},"y":{"field":"y","type":"quantitative","scale":{"domain":[15.5,32.55],"nice":false,"zero":false},"axis":null},"text":{"field":"t"}}}
]
},
{
"width":1757,"height":1079,
"title":{"text":"(b)","orient":"bottom","offset":30,"dx":-41,"fontSize":58,"fontWeight":"bold","color":"#111111","font":"Liberation Serif"},
"resolve":{"axis":{"x":"independent","y":"independent"}},
"layer":[
{"data":{"name":"curve"},"mark":{"type":"area","fill":"#e0ffff","clip":true},
 "encoding":{
  "x":{"field":"x","type":"quantitative","scale":{"domain":[0.875,1.3],"nice":false,"zero":false},"axis":{"orient":"bottom","values":[0.9,0.95,1,1.05,1.1,1.15,1.2,1.25,1.3],"tickCount":200,"tickMinStep":0.01,"format":".2~f","title":"UFC Spacing [m]","grid":true,"gridColor":"#bcbcbc","gridDash":[2,6],"gridWidth":2,"domain":false,"ticks":true,"tickSize":-16,"tickColor":"#909090","tickWidth":2,"labelPadding":34,"labelFontSize":54,"labelColor":"#333333","labelOverlap":false,"labelFlush":false,"titleFontSize":56,"titleFontWeight":"normal","titleColor":"#444444","titlePadding":22,"zindex":1}},
  "y":{"field":"y","type":"quantitative","scale":{"domain":[15.5,32.55],"nice":false,"zero":false},"axis":{"orient":"left","values":[16,16.4,16.8,17.2,17.6,18,18.4,18.8,19.2,19.6,20,20.4,20.8,21.2,21.6,22,22.4,22.8,23.2,23.6,24,24.4,24.8,25.2,25.6,26,26.4,26.8,27.2,27.6,28,28.4,28.8,29.2,29.6,30,30.4,30.8,31.2,31.6,32],"tickCount":200,"tickMinStep":0.1,"labelExpr":"datum.value % 2 === 0 ? '' + datum.value : ''","title":"Room Spacing [m]","grid":true,"gridColor":"#bcbcbc","gridDash":[2,6],"gridWidth":2,"domain":false,"ticks":true,"tickSize":-12,"tickColor":"#909090","tickWidth":2,"labelPadding":32,"labelFontSize":54,"labelColor":"#333333","labelOverlap":false,"labelFlush":false,"titleFontSize":56,"titleFontWeight":"normal","titleColor":"#444444","titlePadding":36,"zindex":1}},
  "y2":{"datum":32.55}}},
{"data":{"name":"poly"},"mark":{"type":"line","color":"#999999","strokeWidth":7,"strokeDash":[0.1,17],"strokeCap":"round","clip":true},
 "encoding":{
  "x":{"field":"x","type":"quantitative","scale":{"domain":[0.875,1.3],"nice":false,"zero":false},"axis":{"orient":"top","values":[0.9,0.95,1,1.05,1.1,1.15,1.2,1.25,1.3],"tickCount":200,"tickMinStep":0.01,"labels":false,"title":null,"grid":false,"domain":false,"ticks":true,"tickSize":-16,"tickColor":"#909090","tickWidth":2,"zindex":1}},
  "y":{"field":"y","type":"quantitative","scale":{"domain":[15.5,32.55],"nice":false,"zero":false},"axis":{"orient":"right","values":[16,16.4,16.8,17.2,17.6,18,18.4,18.8,19.2,19.6,20,20.4,20.8,21.2,21.6,22,22.4,22.8,23.2,23.6,24,24.4,24.8,25.2,25.6,26,26.4,26.8,27.2,27.6,28,28.4,28.8,29.2,29.6,30,30.4,30.8,31.2,31.6,32],"tickCount":200,"tickMinStep":0.1,"labels":false,"title":null,"grid":false,"domain":false,"ticks":true,"tickSize":-12,"tickColor":"#909090","tickWidth":2,"zindex":1}}}},
{"data":{"name":"bounds"},"mark":{"type":"line","color":"#0000ff","strokeWidth":8,"strokeDash":[6,4],"clip":true},
 "encoding":{"x":{"field":"x","type":"quantitative","scale":{"domain":[0.875,1.3],"nice":false,"zero":false},"axis":null},"y":{"field":"y","type":"quantitative","scale":{"domain":[15.5,32.55],"nice":false,"zero":false},"axis":null},"order":{"field":"y"}}},
{"data":{"name":"curve"},"mark":{"type":"line","color":"#ff0000","strokeWidth":9,"interpolate":"monotone","clip":true},
 "encoding":{"x":{"field":"x","type":"quantitative","scale":{"domain":[0.875,1.3],"nice":false,"zero":false},"axis":null},"y":{"field":"y","type":"quantitative","scale":{"domain":[15.5,32.55],"nice":false,"zero":false},"axis":null}}},
{"data":{"name":"tolB"},"mark":{"type":"rect","fill":"transparent","stroke":"#000000","strokeWidth":9},
 "encoding":{"x":{"field":"x1","type":"quantitative","scale":{"domain":[0.875,1.3],"nice":false,"zero":false},"axis":null},"x2":{"field":"x2"},"y":{"field":"y1","type":"quantitative","scale":{"domain":[15.5,32.55],"nice":false,"zero":false},"axis":null},"y2":{"field":"y2"}}},
{"data":{"name":"mcB"},"mark":{"type":"point","filled":false,"strokeWidth":10,"size":8100,"opacity":1},
 "encoding":{"x":{"field":"x","type":"quantitative","scale":{"domain":[0.875,1.3],"nice":false,"zero":false},"axis":null},"y":{"field":"y","type":"quantitative","scale":{"domain":[15.5,32.55],"nice":false,"zero":false},"axis":null},
  "color":{"field":"s","type":"nominal","scale":{"domain":["Temp Constraint","Bounds","Polytopes","Tolerance Box","Max Yield Box","Monte Carlo"],"range":["#ff0000","#0000ff","#999999","#000000","#00e600","#0000ff"]},
   "legend":{"orient":"none","legendX":71,"legendY":1240,"title":null,"columns":3,"direction":"horizontal","columnPadding":60,"rowPadding":12,"padding":20,"labelFontSize":56,"labelFont":"Liberation Serif","labelColor":"#333333","labelOffset":54,"labelLimit":0,"symbolSize":2116,"symbolOffset":18,"symbolStrokeWidth":10,"symbolFillColor":"transparent","strokeColor":"#8c8c8c","fillColor":"#ffffff"}},
  "shape":{"field":"s","type":"nominal","scale":{"domain":["Temp Constraint","Bounds","Polytopes","Tolerance Box","Max Yield Box","Monte Carlo"],"range":["M-2,0H2","M-2,0H2","M-1.8,0h0.24M-0.7,0h0.24M0.4,0h0.24M1.5,0h0.24","M-2,0H2","M-1.9,0h0.56M-0.28,0h0.56M1.34,0h0.56","M-0.1,0h0.2"]},
   "legend":{"orient":"none","legendX":71,"legendY":1240,"title":null,"columns":3,"direction":"horizontal","columnPadding":60,"rowPadding":12,"padding":20,"labelFontSize":56,"labelFont":"Liberation Serif","labelColor":"#333333","labelOffset":54,"labelLimit":0,"symbolSize":2116,"symbolOffset":18,"symbolStrokeWidth":10,"symbolFillColor":"transparent","strokeColor":"#8c8c8c","fillColor":"#ffffff"}}}},
{"data":{"name":"myB"},"mark":{"type":"rect","fill":"transparent","stroke":"#00e600","strokeWidth":8,"strokeDash":[11,21]},
 "encoding":{"x":{"field":"x1","type":"quantitative","scale":{"domain":[0.875,1.3],"nice":false,"zero":false},"axis":null},"x2":{"field":"x2"},"y":{"field":"y1","type":"quantitative","scale":{"domain":[15.5,32.55],"nice":false,"zero":false},"axis":null},"y2":{"field":"y2"}}},
{"data":{"name":"dcB"},"mark":{"type":"point","filled":true,"fill":"#22cc22","stroke":"#127712","strokeWidth":2,"size":600,"opacity":1},
 "encoding":{"x":{"field":"x","type":"quantitative","scale":{"domain":[0.875,1.3],"nice":false,"zero":false},"axis":null},"y":{"field":"y","type":"quantitative","scale":{"domain":[15.5,32.55],"nice":false,"zero":false},"axis":null}}},
{"data":{"name":"txtB"},"mark":{"type":"text","align":"left","baseline":"middle","fontSize":48,"font":"Liberation Serif","color":"#2a2a2a"},
 "encoding":{"x":{"field":"x","type":"quantitative","scale":{"domain":[0.875,1.3],"nice":false,"zero":false},"axis":null},"y":{"field":"y","type":"quantitative","scale":{"domain":[15.5,32.55],"nice":false,"zero":false},"axis":null},"text":{"field":"t"}}}
]
}
]
}
